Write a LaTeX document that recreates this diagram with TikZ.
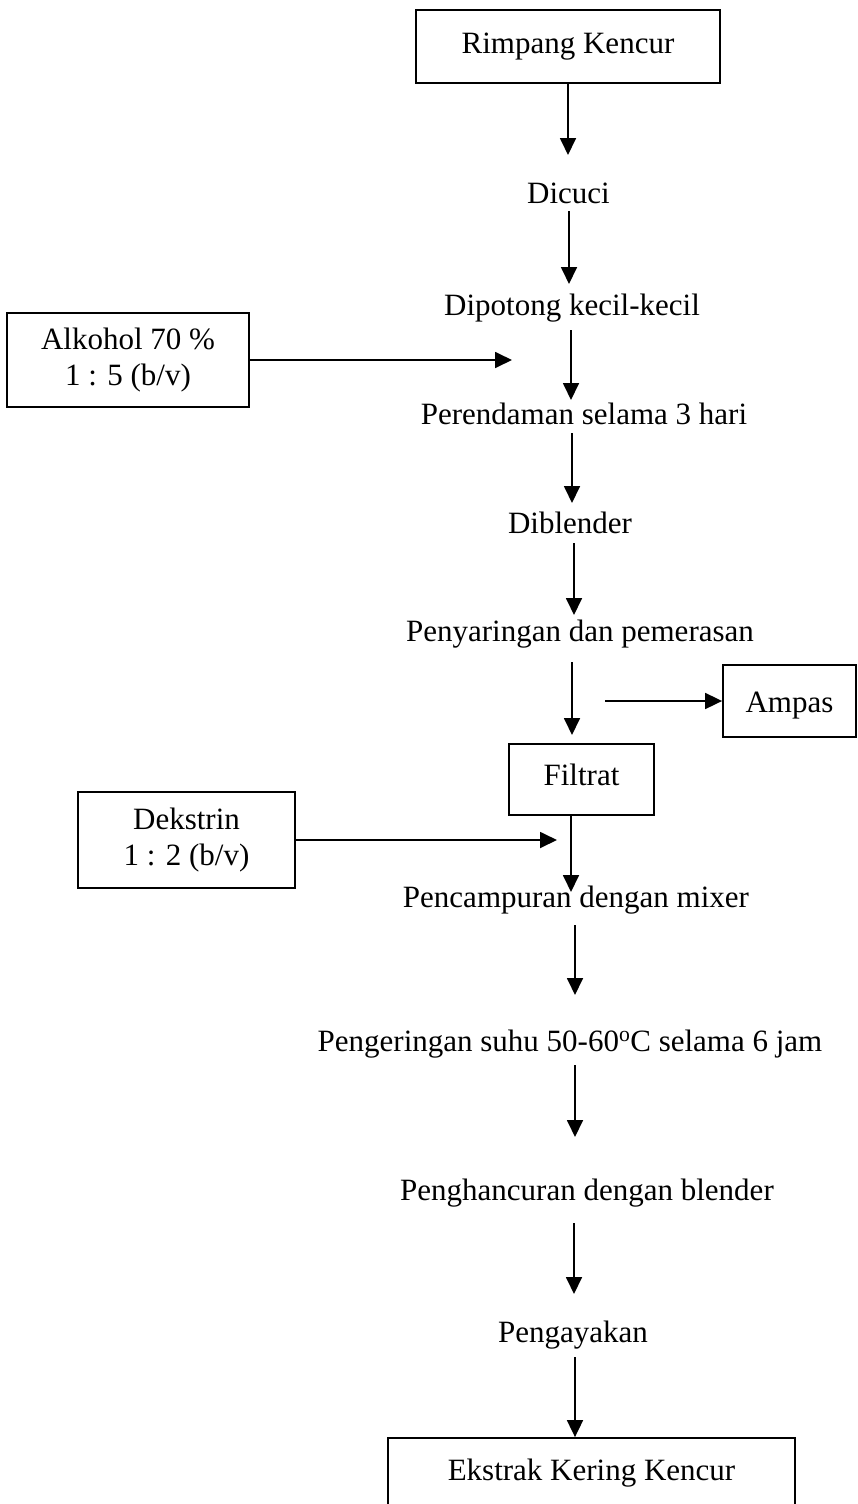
\documentclass[tikz,border=0pt]{standalone}
\usepackage{fontspec}
\setmainfont{Liberation Serif}
\usetikzlibrary{arrows.meta}
\begin{document}
\begin{tikzpicture}[x=1pt,y=-1pt,
  every node/.style={font=\fontsize{31}{36}\selectfont, inner sep=0pt},
  lbl/.style={anchor=base},
  boxed/.style={draw, line width=1.8pt, anchor=base},
  mbox/.style={draw, line width=1.8pt, align=center},
  arr/.style={line width=1.8pt, -{Triangle[length=17pt,width=16pt]}},
  ln/.style={line width=1.8pt}]
\useasboundingbox (0,0) rectangle (858,1504);
\clip (0,0) rectangle (858,1504);
% boxes
\node[boxed, text height=43pt, text depth=30pt, minimum width=304pt] (rimpang) at (568,53) {Rimpang Kencur};
\node[mbox, minimum width=242pt, minimum height=94pt] (alkohol) at (128,360) {Alkohol 70 \%\\1 : 5 (b/v)};
\node[boxed, text height=47pt, text depth=25pt, minimum width=133pt] (ampas) at (789.5,712) {Ampas};
\node[boxed, text height=41pt, text depth=30pt, minimum width=145pt] (filtrat) at (581.5,785) {Filtrat};
\node[mbox, minimum width=217pt, minimum height=96pt] (dekstrin) at (186.5,840) {Dekstrin\\1 : 2 (b/v)};
\node[boxed, text height=42pt, text depth=50pt, minimum width=407pt] (ekstrak) at (591.5,1480) {Ekstrak Kering Kencur};
% text steps
\node[lbl] (dicuci) at (568.5,203) {Dicuci};
\node[lbl] (dipotong) at (572,315) {Dipotong kecil-kecil};
\node[lbl] (rendam) at (584,424) {Perendaman selama 3 hari};
\node[lbl] (blender) at (570,533) {Diblender};
\node[lbl] (saring) at (580,641) {Penyaringan dan pemerasan};
\node[lbl] (campur) at (576,907) {Pencampuran dengan mixer};
\node[lbl] (kering) at (570,1051) {Pengeringan suhu 50-60\textsuperscript{o}C selama 6 jam};
\node[lbl] (hancur) at (587,1200) {Penghancuran dengan blender};
\node[lbl] (ayak) at (573,1342) {Pengayakan};
% coordinates
\coordinate (t1) at (568,155);
\coordinate (s2) at (569,211); \coordinate (t2) at (569,284);
\coordinate (s3) at (571,330); \coordinate (t3) at (571,400);
\coordinate (ta) at (512,360);
\coordinate (s4) at (572,433); \coordinate (t4) at (572,503);
\coordinate (s5) at (574,543); \coordinate (t5) at (574,615);
\coordinate (s6) at (572,662); \coordinate (t6) at (572,735);
\coordinate (sam) at (605,701);
\coordinate (tf) at (571,892);
\coordinate (td) at (557,840);
\coordinate (s7) at (575,925); \coordinate (t7) at (575,995);
\coordinate (s8) at (575,1065); \coordinate (t8) at (575,1137);
\coordinate (s9) at (574,1223); \coordinate (t9) at (574,1294);
\coordinate (s10) at (575,1357);
% connectors
\draw[arr] (rimpang) -- (t1);
\draw[arr] (s2) -- (t2);
\draw[arr] (s3) -- (t3);
\draw[arr] (alkohol.east) -- (ta);
\draw[arr] (s4) -- (t4);
\draw[arr] (s5) -- (t5);
\draw[arr] (s6) -- (t6);
\draw[arr] (sam) -- (ampas);
\draw[arr] (filtrat.south -| tf) -- (tf);
\draw[arr] (dekstrin.east) -- (td);
\draw[arr] (s7) -- (t7);
\draw[arr] (s8) -- (t8);
\draw[arr] (s9) -- (t9);
\draw[arr] (s10) -- (s10 |- ekstrak.north);
\end{tikzpicture}
\end{document}
